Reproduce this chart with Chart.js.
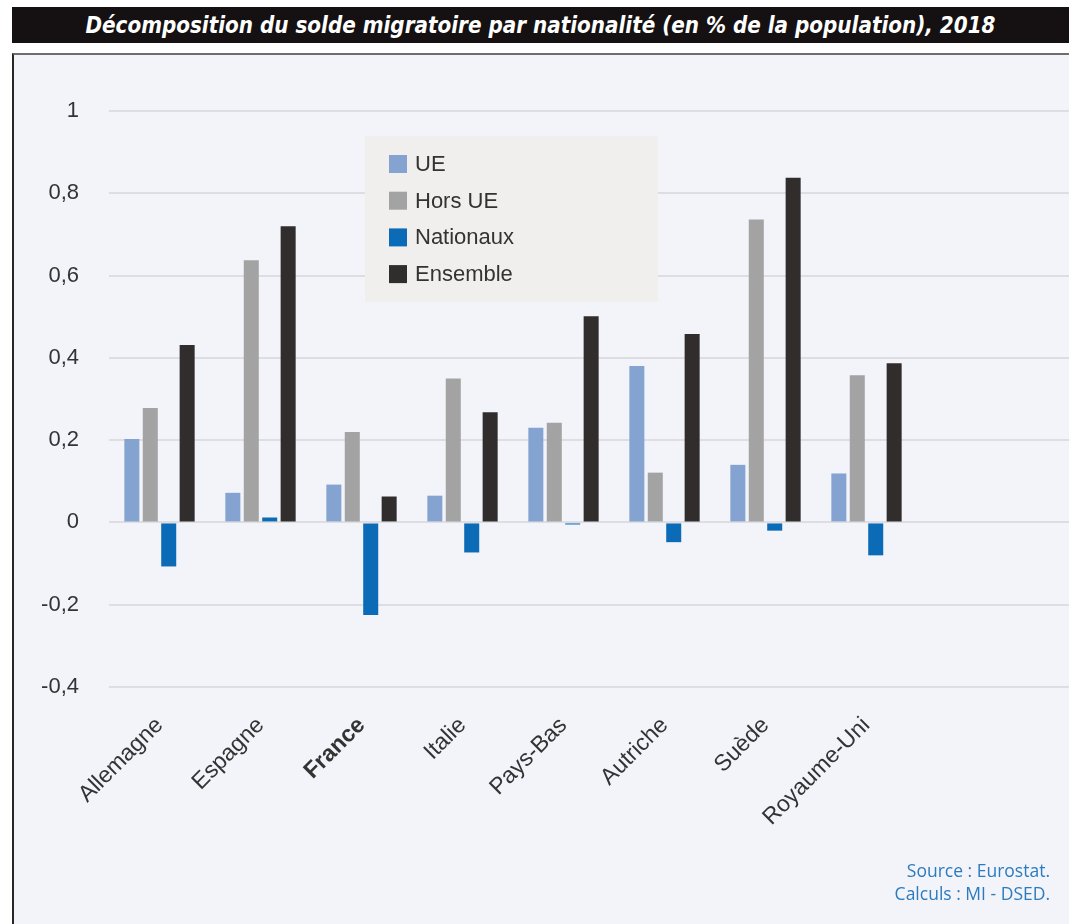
<!DOCTYPE html>
<html lang="fr">
<head>
<meta charset="utf-8">
<title>Solde migratoire par nationalité, 2018</title>
<script src="https://cdn.jsdelivr.net/npm/chart.js@4.4.1/dist/chart.umd.min.js"></script>
<style>
  html, body {
    margin: 0;
    padding: 0;
    background: #ffffff;
    overflow: hidden;
    width: 1069px;
    height: 924px;
  }
  .title {
    position: absolute;
    left: 12px;
    top: 7px;
    width: 1057px;
    height: 36px;
    background: #151011;
    color: #ffffff;
    font-family: "DejaVu Sans Condensed", "Liberation Sans", sans-serif;
    font-weight: bold;
    font-style: italic;
    font-size: 23px;
    line-height: 36px;
    text-align: center;
    white-space: nowrap;
  }
  .title span {
    display: inline-block;
    transform-origin: center center;
  }
  .panel {
    position: absolute;
    left: 12px;
    top: 53px;
    width: 1120px;
    height: 900px;
    background: #f3f4fa;
    border-left: 2px solid #2b2626;
    border-top: 2px solid #6e6e6e;
  }
  .chart-box {
    position: absolute;
    left: 0;
    top: 0;
    width: 1105px;
    height: 870px;
  }
  .source {
    position: absolute;
    right: 19px;
    top: 859px;
    color: #2b7bbf;
    font-family: "Open Sans", "Noto Sans", sans-serif;
    font-size: 17.5px;
    line-height: 23px;
    text-align: right;
  }
</style>
</head>
<body>
<div class="title"><span id="titleText">Décomposition du solde migratoire par nationalité (en % de la population), 2018</span></div>
<div class="panel">
  <div class="chart-box"><canvas id="soldeChart"></canvas></div>
</div>
<div class="source">Source : Eurostat.<br>Calculs : MI - DSED.</div>

<script>
const countries = ["Allemagne", "Espagne", "France", "Italie", "Pays-Bas", "Autriche", "Suède", "Royaume-Uni"];
const ue = [0.203, 0.072, 0.092, 0.065, 0.23, 0.38, 0.14, 0.119];
const horsUe = [0.278, 0.637, 0.22, 0.35, 0.242, 0.121, 0.736, 0.358];
const nationaux = [-0.107, 0.012, -0.225, -0.073, -0.005, -0.048, -0.02, -0.08];
const ensemble = [0.431, 0.72, 0.063, 0.268, 0.501, 0.458, 0.838, 0.387];
const yTicks = [-0.4, -0.2, 0, 0.2, 0.4, 0.6, 0.8, 1];

// two empty slots on the right keep the grid running to the edge of the panel
const labels = countries.concat(["", ""]);

const textColor = "#333333";
const baseFont = "'Liberation Sans', Arial, sans-serif";

// squeeze the title into its narrow band
const titleText = document.querySelector("#titleText");
const titleScale = 910 / titleText.getBoundingClientRect().width;
titleText.style.transform = "scaleX(" + titleScale + ")";

// legend drawn as a boxed block inside the plot, under the bars
const boxLegend = {
  id: "boxLegend",
  beforeDatasetsDraw(chart) {
    const { ctx, chartArea } = chart;
    const x = chartArea.left + 256;
    const y = chartArea.top + 25;
    ctx.save();
    ctx.fillStyle = "#f0efed";
    ctx.fillRect(x, y, 293, 166);
    ctx.font = "22px " + baseFont;
    ctx.textBaseline = "middle";
    chart.data.datasets.forEach((ds, i) => {
      const cy = y + 28 + i * 36.7;
      ctx.fillStyle = ds.backgroundColor;
      ctx.fillRect(x + 24, cy - 9, 18, 18);
      ctx.fillStyle = textColor;
      ctx.fillText(ds.label, x + 50, cy + 1);
    });
    ctx.restore();
  }
};

function formatTick(value) {
  const v = Math.round(value * 10) / 10;
  return String(v).replace(".", ",");
}

new Chart(document.querySelector("#soldeChart"), {
  type: "bar",
  data: {
    labels: labels,
    datasets: [
      { label: "UE", data: ue, backgroundColor: "#85a3d1" },
      { label: "Hors UE", data: horsUe, backgroundColor: "#a3a3a3" },
      { label: "Nationaux", data: nationaux, backgroundColor: "#0c6bb6" },
      { label: "Ensemble", data: ensemble, backgroundColor: "#302d2c" }
    ]
  },
  options: {
    responsive: true,
    maintainAspectRatio: false,
    animation: false,
    layout: { padding: { top: 56, left: 0, right: 0, bottom: 0 } },
    datasets: {
      bar: {
        categoryPercentage: 0.73,
        barPercentage: 0.815,
        borderWidth: 0
      }
    },
    scales: {
      x: {
        grid: { display: false },
        border: { display: false },
        ticks: {
          autoSkip: false,
          maxRotation: 45,
          minRotation: 45,
          padding: 17,
          color: textColor,
          font: (ctx) => ({
            family: baseFont,
            size: 23,
            weight: ctx.tick && ctx.tick.label === "France" ? "bold" : "normal"
          })
        },
        afterFit(scale) {
          scale.height = 238;
        }
      },
      y: {
        min: -0.4,
        max: 1,
        afterBuildTicks(scale) {
          scale.ticks = yTicks.map((v) => ({ value: v }));
        },
        grid: { color: "#dedee2", lineWidth: 2, drawTicks: false },
        border: { display: false },
        ticks: {
          padding: 30,
          color: textColor,
          font: { family: baseFont, size: 22 },
          callback: formatTick
        },
        afterFit(scale) {
          scale.width = 95;
        }
      }
    },
    plugins: {
      legend: { display: false },
      tooltip: { enabled: false }
    }
  },
  plugins: [boxLegend]
});
</script>
</body>
</html>
